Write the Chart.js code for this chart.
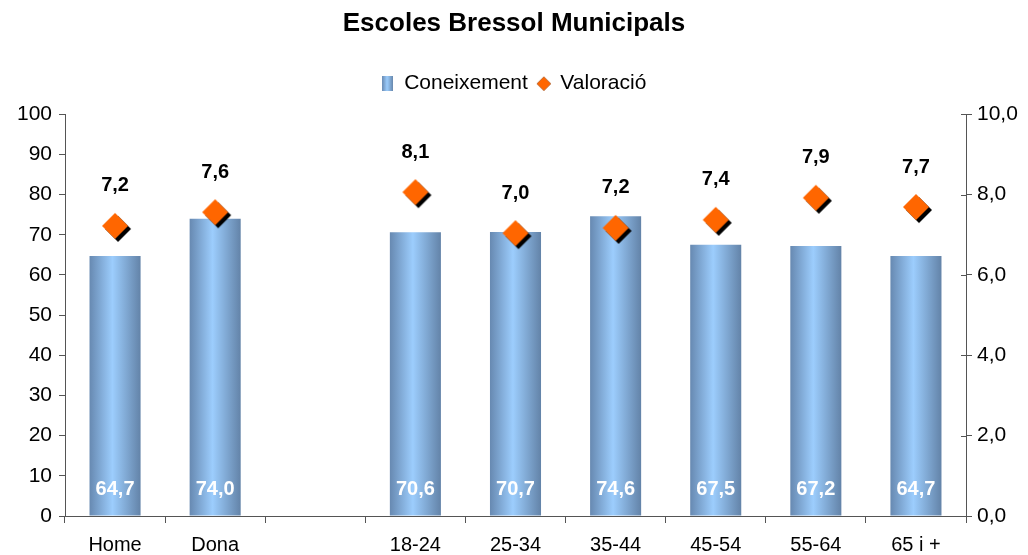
<!DOCTYPE html>
<html lang="ca">
<head>
    <meta charset="UTF-8">
    <title>Escoles Bressol Municipals</title>
    <script src="https://cdn.jsdelivr.net/npm/chart.js"></script>
    <style>
        html, body { margin: 0; padding: 0; background: #fff; }
        #wrap { width: 1028px; height: 555px; }
    </style>
</head>
<body>
    <div id="wrap"><canvas id="chart"></canvas></div>

    <script>
        // data
        const categories = ['Home', 'Dona', '', '18-24', '25-34', '35-44', '45-54', '55-64', '65 i +'];
        const coneixement = [64.7, 74.0, null, 70.6, 70.7, 74.6, 67.5, 67.2, 64.7];
        const valoracio = [7.22, 7.56, null, 8.06, 7.04, 7.17, 7.37, 7.92, 7.69];
        const leftTicks = [0, 10, 20, 30, 40, 50, 60, 70, 80, 90, 100];
        const rightTicks = [0, 2, 4, 6, 8, 10];

        const FONT = "'Liberation Sans', Arial, sans-serif";
        const AXIS = '#555555';
        const ORANGE = '#ff6600';
        const fmt = v => v.toFixed(1).replace('.', ',');

        // diamond marker with a black drop shadow
        function makeDiamond(r, off) {
            const size = (r + off) * 2 + 2;
            const c = document.createElement('canvas');
            c.width = size; c.height = size;
            const g = c.getContext('2d');
            const m = size / 2;
            const dia = (cx, cy, col) => {
                g.beginPath();
                g.moveTo(cx, cy - r); g.lineTo(cx + r, cy); g.lineTo(cx, cy + r); g.lineTo(cx - r, cy);
                g.closePath(); g.fillStyle = col; g.fill();
            };
            dia(m + off, m + off, '#000');
            dia(m, m, ORANGE);
            return c;
        }
        const diamond = makeDiamond(13, 3);
        const legendDiamond = makeDiamond(7, 0);

        // small legend swatch for the bars
        const swatch = document.createElement('canvas');
        swatch.width = 11; swatch.height = 15;
        (function () {
            const g = swatch.getContext('2d');
            const gr = g.createLinearGradient(0, 0, 11, 0);
            gr.addColorStop(0, '#6a8cb4');
            gr.addColorStop(0.45, '#9ccdfd');
            gr.addColorStop(1, '#6686ab');
            g.fillStyle = gr; g.fillRect(0, 0, 11, 15);
        })();

        function barGradient(ctx) {
            const chart = ctx.chart;
            if (!chart.chartArea || ctx.dataIndex === undefined) return '#8ab4e0';
            const xs = chart.scales.x;
            const cx = xs.getPixelForValue(ctx.dataIndex);
            const half = (xs.width / categories.length) * 0.51 / 2;
            const gr = chart.ctx.createLinearGradient(cx - half, 0, cx + half, 0);
            gr.addColorStop(0, '#6789b1');
            gr.addColorStop(0.45, '#9ccdfd');
            gr.addColorStop(1, '#6383a8');
            return gr;
        }

        // value labels, inner ticks on the right axis, extra room under the legend
        const extras = {
            id: 'extras',
            afterInit(chart) {
                const lg = chart.legend;
                if (!lg) return;
                const fit = lg.fit;
                lg.fit = function () { fit.call(this); this.height += 10; };
            },
            afterDatasetsDraw(chart) {
                const g = chart.ctx;
                g.save();
                g.textAlign = 'center';
                g.textBaseline = 'middle';
                g.font = 'bold 20px ' + FONT;
                chart.getDatasetMeta(0).data.forEach((el, i) => {
                    if (coneixement[i] == null) return;
                    g.fillStyle = '#ffffff';
                    g.fillText(fmt(coneixement[i]), el.x, chart.chartArea.bottom - 27);
                });
                chart.getDatasetMeta(1).data.forEach((el, i) => {
                    if (valoracio[i] == null) return;
                    g.fillStyle = '#000000';
                    g.fillText(fmt(valoracio[i]), el.x, el.y - 40);
                });
                const y1 = chart.scales.y1;
                g.strokeStyle = AXIS; g.lineWidth = 1;
                rightTicks.forEach(t => {
                    const py = Math.round(y1.getPixelForValue(t)) + 0.5;
                    g.beginPath(); g.moveTo(y1.left - 5, py); g.lineTo(y1.left, py); g.stroke();
                });
                g.restore();
            }
        };

        Chart.defaults.font.family = FONT;
        Chart.defaults.color = '#000';

        new Chart(document.getElementById('chart'), {
            type: 'bar',
            data: {
                labels: categories,
                datasets: [
                    {
                        label: 'Coneixement',
                        data: coneixement,
                        backgroundColor: barGradient,
                        borderWidth: 0,
                        categoryPercentage: 0.6,
                        barPercentage: 0.85,
                        yAxisID: 'y',
                        order: 2
                    },
                    {
                        type: 'line',
                        label: 'Valoració',
                        data: valoracio,
                        showLine: false,
                        pointStyle: diamond,
                        pointRadius: 13,
                        pointHoverRadius: 13,
                        backgroundColor: ORANGE,
                        yAxisID: 'y1',
                        order: 1
                    }
                ]
            },
            options: {
                responsive: true,
                maintainAspectRatio: false,
                animation: false,
                layout: { padding: { left: 0, right: 0, top: 0, bottom: 0 } },
                plugins: {
                    title: {
                        display: true,
                        text: 'Escoles Bressol Municipals',
                        font: { size: 26, weight: 'bold' },
                        color: '#000',
                        padding: { top: 8, bottom: 24 }
                    },
                    legend: {
                        display: true,
                        labels: {
                            usePointStyle: true,
                            font: { size: 21 },
                            color: '#000',
                            padding: 10,
                            boxWidth: 12,
                            generateLabels() {
                                return [
                                    { text: 'Coneixement', pointStyle: swatch, fillStyle: '#8ab4e0', strokeStyle: 'transparent', lineWidth: 0, datasetIndex: 0 },
                                    { text: 'Valoració', pointStyle: legendDiamond, fillStyle: ORANGE, strokeStyle: 'transparent', lineWidth: 0, datasetIndex: 1 }
                                ];
                            }
                        }
                    },
                    tooltip: { enabled: false }
                },
                scales: {
                    x: {
                        grid: { display: true, drawOnChartArea: false, offset: true, tickLength: 7, color: AXIS },
                        border: { display: true, color: AXIS },
                        ticks: { font: { size: 20 }, color: '#000', padding: 10, maxRotation: 0, autoSkip: false },
                        afterFit(s) { s.height = 39; }
                    },
                    y: {
                        position: 'left',
                        min: 0, max: 100,
                        afterBuildTicks(s) { s.ticks = leftTicks.map(v => ({ value: v })); },
                        grid: { drawOnChartArea: false, tickLength: 6, color: AXIS },
                        border: { color: AXIS },
                        ticks: { font: { size: 21 }, color: '#000', padding: 7 },
                        afterFit(s) { s.width = 65; }
                    },
                    y1: {
                        position: 'right',
                        min: 0, max: 10,
                        afterBuildTicks(s) { s.ticks = rightTicks.map(v => ({ value: v })); },
                        grid: { drawOnChartArea: false, tickLength: 6, color: AXIS },
                        border: { color: AXIS },
                        ticks: { font: { size: 21 }, color: '#000', padding: 5, callback: v => fmt(v) },
                        afterFit(s) { s.width = 62; }
                    }
                }
            },
            plugins: [extras]
        });
    </script>
</body>
</html>
